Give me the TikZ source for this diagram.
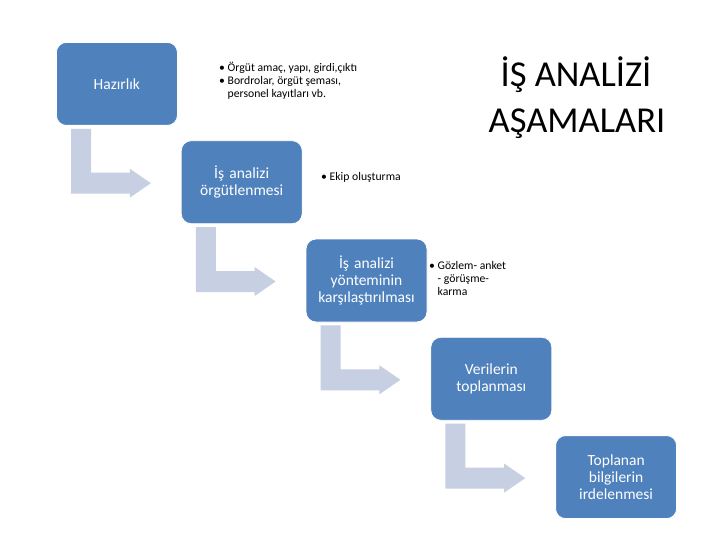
\documentclass[tikz,border=0pt]{standalone}
\usepackage{fontspec}
\setmainfont{Carlito}
\usetikzlibrary{positioning, calc}
\definecolor{boxblue}{RGB}{79,129,189}
\definecolor{arrowgray}{RGB}{198,208,226}

\begin{document}
\begin{tikzpicture}[
        x=1pt, y=-1pt,
        node distance=14.5pt and 3pt,
        stepbox/.style={rectangle, draw=white, line width=0.8pt, fill=boxblue, rounded corners=10pt, minimum width=121pt, minimum height=83pt, text width=114pt, inner sep=0pt, align=center, text=white, font=\fontsize{15.5}{17}\selectfont},
        bendarrow/.style={fill=arrowgray},
        note/.style={anchor=base west, align=left, inner sep=0pt, font=\fontsize{11.7}{13}\selectfont},
        heading/.style={anchor=base, inner sep=0pt, font=\fontsize{36.5}{40}\selectfont}
    ]
    \useasboundingbox[fill=white] (0,0) rectangle (720,540);

    % adimlar
    \node[stepbox, anchor=north west] (hazirlik) at (56,42) {Hazırlık};
    \node[stepbox, below right=of hazirlik] (orgutlenme) {İş analizi\\örgütlenmesi};
    \node[stepbox, below right=of orgutlenme] (karsilastirma) {İş analizi\\yönteminin\\karşılaştırılması};
    \node[stepbox, below right=of karsilastirma] (toplama) {Verilerin\\toplanması};
    \node[stepbox, below right=of toplama] (irdeleme) {Toplanan\\bilgilerin\\irdelenmesi};

    % kirik oklar
    \foreach \a/\b in {hazirlik/orgutlenme, orgutlenme/karsilastirma, karsilastirma/toplama, toplama/irdeleme} {
        \path ($(\b.west)+(-30,1)$) coordinate (tip)
              ($(\a.south west)+(15,3)$) coordinate (top);
        \fill[bendarrow] (top) -- ++(20,0) |- ($(tip)+(-21,-10.5)$) -- ++(0,-4) -- (tip)
            -- ++(-21,14.5) -- ++(0,-4) -| (top) -- cycle;
    }

    % aciklamalar (taban = son satir)
    \node[note] (notHazirlik) at (219,98) {• Örgüt amaç, yapı, girdi,çıktı\\• Bordrolar, örgüt şeması,\\\phantom{• }personel kayıtları vb.};
    \node[note] (notOrgut) at (321,181) {• Ekip oluşturma};
    \node[note] (notYontem) at (429,295) {• Gözlem- anket\\\phantom{• }- görüşme-\\\phantom{• }karma};

    % baslik
    \node[heading] (baslik1) at (576,87) {İŞ ANALİZİ};
    \node[heading] (baslik2) at (577,133) {AŞAMALARI};
\end{tikzpicture}
\end{document}
